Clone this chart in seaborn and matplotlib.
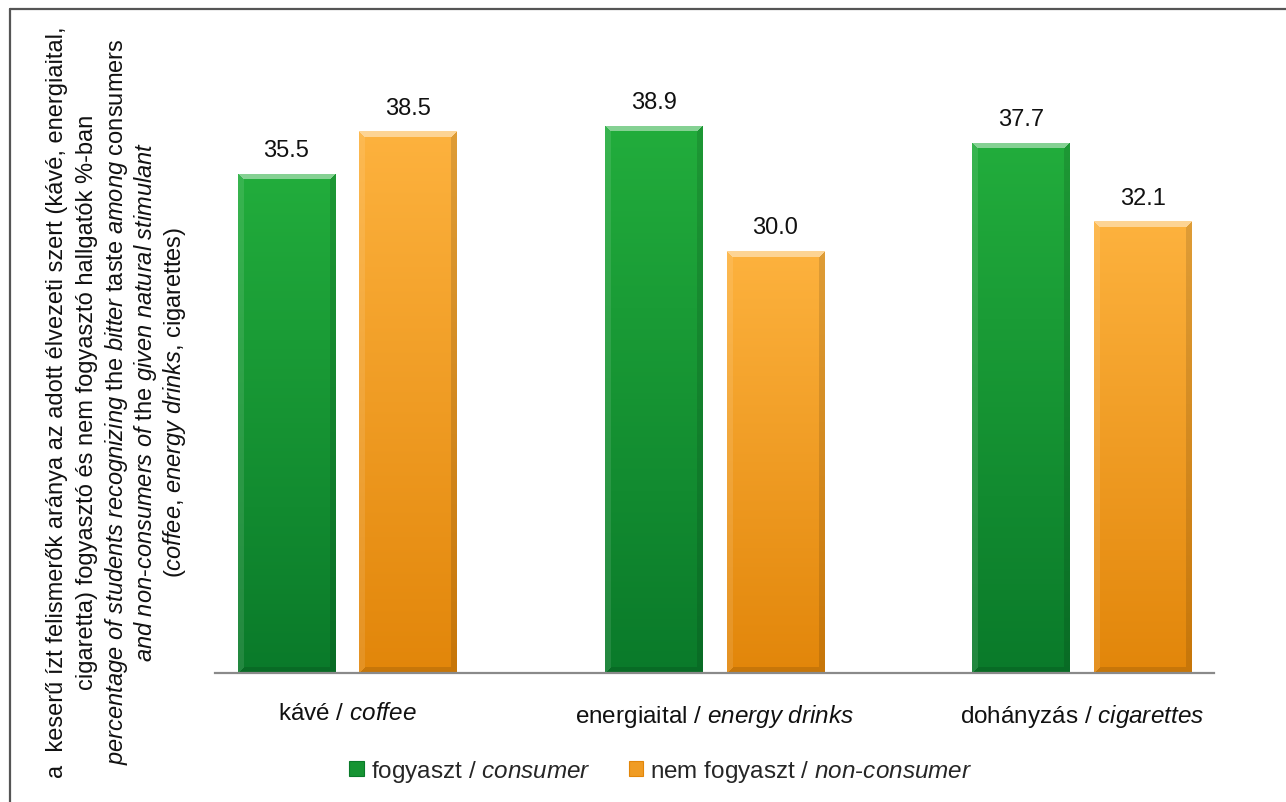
import numpy as np
import pandas as pd
import matplotlib
matplotlib.use("Agg")
import matplotlib.pyplot as plt
import matplotlib.colors as mcolors
from matplotlib.lines import Line2D
from matplotlib.patches import Patch
import seaborn as sns

# --- data -----------------------------------------------------------------
categories = ["kávé / $\\mathit{coffee}$",
              "energiaital / $\\mathit{energy\\ drinks}$",
              "dohányzás / $\\mathit{cigarettes}$"]
groups = ["fogyaszt / $\\mathit{consumer}$",
          "nem fogyaszt / $\\mathit{non}$-$\\mathit{consumer}$"]
consumer = [35.5, 38.9, 37.7]
non_consumer = [38.5, 30.0, 32.1]

ylabel_lines = [
    "a  keserű ízt felismerők aránya az adott élvezeti szert (kávé, energiaital,",
    "cigaretta) fogyasztó és nem fogyasztó hallgatók %-ban",
    "$\\mathit{percentage\\ of\\ students\\ recognizing}$ the $\\mathit{bitter}$ taste "
    "$\\mathit{among}$ consumers",
    "$\\mathit{and\\ non}$-$\\mathit{consumers\\ of}$ the $\\mathit{given\\ natural\\ stimulant}$",
    "$\\mathit{(coffee}$, $\\mathit{energy\\ drinks}$, cigarettes)",
]

df = pd.DataFrame({
    "category": categories * 2,
    "group": [groups[0]] * 3 + [groups[1]] * 3,
    "value": consumer + non_consumer,
})

# bar shading: (top colour, bottom colour) for each group
shades = {
    groups[0]: ("#22ad3c", "#0a7a2a"),
    groups[1]: ("#fdb23e", "#e2860a"),
}
palette = {g: shades[g][1] for g in groups}

# --- style ----------------------------------------------------------------
sns.set_theme(style="white")
plt.rcParams["font.family"] = ["Liberation Sans", "DejaVu Sans"]
plt.rcParams["mathtext.fontset"] = "custom"
plt.rcParams["mathtext.rm"] = "Liberation Sans"
plt.rcParams["mathtext.it"] = "Liberation Sans:italic"
plt.rcParams["mathtext.default"] = "it"

W, H = 1286, 803
fig = plt.figure(figsize=(W / 100, H / 100), dpi=100)
ax = fig.add_axes([215 / W, (H - 674) / H, 999 / W, 633 / H])

sns.barplot(data=df, x="category", y="value", hue="group",
            order=categories, hue_order=groups, palette=palette,
            width=0.662, gap=0.2, legend=False, ax=ax, saturation=1)

ax.set_xlim(-0.36, 2.36)
ax.set_ylim(0, 45)
ax.set_xlabel("")
ax.set_ylabel("")
ax.set_yticks([])
for side in ("top", "right", "left"):
    ax.spines[side].set_visible(False)
ax.spines["bottom"].set_color("#8a8a8a")
ax.spines["bottom"].set_linewidth(1.6)
ax.tick_params(axis="x", length=0, pad=21, labelsize=17.5, colors="#111111")


def bevel_image(wpx, hpx, top, bottom, b=6):
    """RGB array for a bevelled bar with a vertical colour gradient."""
    top = np.array(mcolors.to_rgb(top))
    bottom = np.array(mcolors.to_rgb(bottom))
    rows = np.arange(hpx)[:, None]
    cols = np.arange(wpx)[None, :]
    v = 1 - rows / max(hpx - 1, 1)
    img = bottom + (top - bottom) * v[..., None] * np.ones((1, wpx, 1))
    dt = rows + 0 * cols
    db = (hpx - 1 - rows) + 0 * cols
    dl = cols + 0 * rows
    dr = (wpx - 1 - cols) + 0 * rows
    d = np.stack([dt, dl, dr, db])
    nearest = d.argmin(axis=0)
    inside = d.min(axis=0) < b
    white = np.ones(3)
    out = img.copy()
    m = inside & (nearest == 0)
    out[m] = img[m] + (white - img[m]) * 0.45
    m = inside & (nearest == 1)
    out[m] = img[m] + (white - img[m]) * 0.10
    m = inside & (nearest == 2)
    out[m] = img[m] * 0.88
    m = inside & (nearest == 3)
    out[m] = img[m] * 0.88
    return np.clip(out, 0, 1)


fig.canvas.draw()
for container, g in zip(ax.containers, groups):
    top_c, bot_c = shades[g]
    for bar in container:
        x0, y0 = bar.get_x(), bar.get_y()
        bw, bh = bar.get_width(), bar.get_height()
        p0 = ax.transData.transform((x0, y0))
        p1 = ax.transData.transform((x0 + bw, y0 + bh))
        wpx = int(round(abs(p1[0] - p0[0])))
        hpx = int(round(abs(p1[1] - p0[1])))
        img = bevel_image(wpx, hpx, top_c, bot_c)
        im = ax.imshow(img, extent=[x0, x0 + bw, y0, y0 + bh],
                       aspect="auto", zorder=bar.get_zorder() + 0.1,
                       interpolation="nearest")
        im.set_clip_path(bar)
        bar.set_edgecolor("none")
    ax.bar_label(container, fmt="%.1f", padding=9, fontsize=17,
                 color="#111111")

ax.set_xlim(-0.36, 2.36)
ax.set_ylim(0, 45)

# legend below the plot
handles = [Patch(facecolor=mcolors.to_hex(
                 0.5 * np.array(mcolors.to_rgb(shades[g][0])) +
                 0.5 * np.array(mcolors.to_rgb(shades[g][1]))),
                 edgecolor=shades[g][1], linewidth=0.8, label=g)
           for g in groups]
fig.legend(handles=handles, loc="center", bbox_to_anchor=(661 / W, 31 / H),
           ncol=2, frameon=False, fontsize=17.5, handlelength=0.6,
           handleheight=0.6, handletextpad=0.3, columnspacing=1.55,
           borderpad=0)

# rotated multi-line axis title
for xc, line in zip([57, 87, 117, 146, 175], ylabel_lines):
    fig.text(xc / W, 1 - 402 / H, line, rotation=90, ha="center",
             va="center", rotation_mode="anchor", fontsize=17,
             color="#111111")

# frame lines along the left and top edges
fig.add_artist(Line2D([10 / W, 10 / W], [0, 1 - 10 / H],
                      transform=fig.transFigure, color="#555555", lw=1.6))
fig.add_artist(Line2D([10 / W, 1], [1 - 10 / H, 1 - 10 / H],
                      transform=fig.transFigure, color="#555555", lw=1.6))

fig.savefig("out.png", dpi=100, facecolor="white")
